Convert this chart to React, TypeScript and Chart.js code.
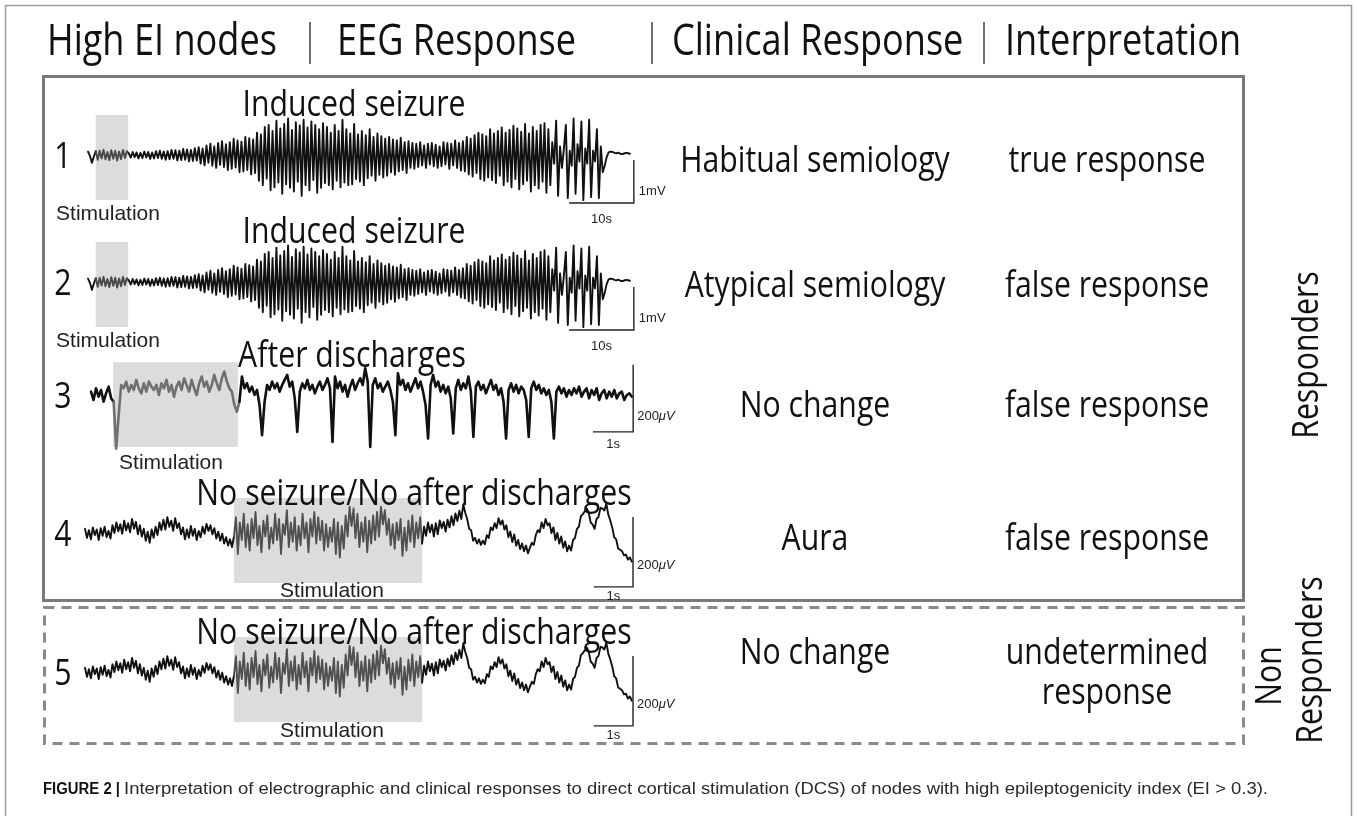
import React, { useEffect, useRef } from "react";
import { Chart, registerables } from "chart.js";

Chart.register(...registerables);

const W = 1357;
const H = 816;

// ---------------- text content ----------------
const HEADERS = ["High EI nodes", "EEG Response", "Clinical Response", "Interpretation"];
const NODE_LABELS = ["1", "2", "3", "4", "5"];
const EEG_RESPONSES = [
  "Induced seizure",
  "Induced seizure",
  "After discharges",
  "No seizure/No after discharges",
  "No seizure/No after discharges",
];
const CLINICAL_RESPONSES = ["Habitual semiology", "Atypical semiology", "No change", "Aura", "No change"];
const INTERPRETATIONS = [
  ["true response"],
  ["false response"],
  ["false response"],
  ["false response"],
  ["undetermined", "response"],
];
const GROUP_RESPONDERS = ["Responders"];
const GROUP_NON_RESPONDERS = ["Non", "Responders"];
const STIM_LABEL = "Stimulation";
const CAPTION_HEAD = "FIGURE 2 |";
const CAPTION_TEXT =
  "Interpretation of electrographic and clinical responses to direct cortical stimulation (DCS) of nodes with high epileptogenicity index (EI > 0.3).";

// ---------------- EEG samples (µV) ----------------
// Induced seizure recording (nodes 1 and 2), one sample every 0.3 s
const SEIZURE_DT = 0.3;
const SEIZURE_UV = [
  80, -20, -180, -40,
  90, -110, 100, -80, 120, -100, 70, -120, 110, -90, 100, -130, 80, -100, 120, -70, 90,
  40, -60, 70, -50, 60, -80, 50, -70, 80, -60, 70, -90, 60, -80, 90, -70, 100, -90, 80, -110, 90, -100, 120, -90, 110, -130, 100, -120, 140, -110, 130, -150, 120, -140, 160, -130,
  180, -200, 150, -240, 220, -180, 260, -250, 200, -300, 280, -230, 320, -280, 250, -350, 300, -320, 380, -290, 340, -400, 310, -380, 420, -350, 390, -450, 360, -420,
  520, -600, 480, -700, 650, -550, 700, -820, 560, -750, 800, -640, 620, -900, 720, -680, 850, -760, 580, -850, 760, -620, 690, -950, 820, -700, 640, -820, 780, -580, 700, -880, 600, -760, 740, -650,
  650, -700, 520, -800, 700, -600, 560, -750, 820, -640, 600, -700, 500, -680, 720, -560, 480, -620, 560, -700, 460, -540, 600, -480, 420, -600, 500, -460, 440, -520, 380, -480, 420, -400, 360, -460, 340, -380, 400, -350, 300, -420, 320, -300, 280,
  -320, 260, -280, 300, -240, 220, -300, 260, -220, 280, -260, 240, -300, 200, -260, 300, -220, 280, -320, 260, -240, 340, -300, 280, -360, 320,
  -380, 420, -450, 380, -500, 460, -420, 520, -560, 480, -600, 440, -520, 600, -580, 500, -650, 560, -480, 640, -700, 520, -620, 580, -750, 680, -560, 620, -800, 540, -680, 720, -600, 500, -850, 650, -700, 560, -780, 700, -620, 740, -880, 600, -700,
  300, -200, 800, -950, 200, -300, 150, 700, -1000, 100, -250, 850, -900, 250, -150, 780, -1050, 150, -200, 820, -980, 100, -150, 600, -1000, 200,
  -400, -250, -50, 60, 80, 70, 50, 40, 55, 30, 20, 35, 50, 40, 30,
];

// After-discharge recording (node 3), one sample every 0.0625 s
const AD_DT = 0.0625;
const AD_UV = [
  10, -15, 20, -5, 15, -20, 5, 25, -10,
  -20, -160, -60, 30, 20, 40, 10, 30, 15, 45,
  20, 5, 35, 10, 40, 25, 15, 30, 0, 35,
  20, 45, 10, 30, -5, 25, 40, 15, 50, 30,
  10, 45, 20, 0, 35, 55, 25, 40, 10, 30,
  60, 35, 15, 50, 70, 40, 20, 10, -30, -50,
  -20,
  55, 20, 35, 10, 25, 0, 15, -30, -120, -20,
  30, 15, 40, 20, 35, 10, 30, 45, 60, 25,
  40, -10, -110, 10, 35, 20, 45, 15, 30, 5,
  25, 40, 15, 30, 50, 20, -140, 55, 20, 40,
  10, 30, -5, 25, 45, 15, 35, 50, 30, 80,
  40, -155, 30, 50, 20, 35, 10, 25, 40, 15,
  -20, -120, 65, 30, 45, 15, 35, 10, 30, 50,
  20, 40, 10, -30, -130, 30, 60, 25, 40, 10,
  30, 5, 25, -10, -115, 20, 45, 15, 35, 20,
  55, 10, -125, 25, 40, 15, 30, 5, 25, 45,
  15, 30, 0, 20, -20, -130, 15, 35, 10, 30,
  5, 25, 15, -15, -125, 20, 40, 15, 30, 5,
  20, 0, 15, -20, -130, 10, 25, 5, 20, -5,
  15, 0, 20, 5, 25, -5, 10, 20, -10, 15,
  0, 20, -15, 5, 15, -10, 10, -5, 15, -10,
  5, 10, -15, 0, 5, -5,
];

// No-response recording (nodes 4 and 5), one sample every 0.05 s
const BASE_DT = 0.05;
const BASE_UV = [
  12, -14, 8, -18, 16, -6, 10, -20, 14, -8,
  18, -12, 6, -16, 22, 0, 30, 5, 25, -2,
  35, 8, 28, 2, 40, 12, 32, -4, 22, -10,
  12, -22, 4, -28, 10, -14, 18, -6, 30, 8,
  38, 10, 45, 18, 35, 6, 42, 14, 28, -4,
  16, -18, 10, -14, 20, -8, 12, -20, 6, -12,
  18, -2, 26, 6, 22, -4, 14, -16, 4, -22,
  -2, -30, -12, -36, -18, -40,
  -10, 45, -60, 30, -20, 55, -40, 25, -50, 40,
  -15, 60, -35, 20, -55, 35, -10, 50, -45, 15,
  -30, 55, -20, 40, -60, 25, -5, 65, -40, 30,
  -25, 45, -50, 20, -35, 55, -15, 30, -55, 40,
  -10, 60, -30, 45, -20, 35, -50, 25, -40, 15,
  -25, 40, -60, 30, -70, 20, -45, 50, -10, 75,
  20, 70, -15, 55, -40, 30, -25, 45, -55, 35,
  -30, 50, -20, 60, -10, 75, 25, 65, -5, 40,
  -35, 25, -45, 30, -20, 40, -65, 15, -50, 35,
  -25, 50, -40, 30, -15, 45, -30,
  18, -8, 30, 2, 24, -10, 28, -4, 36, 14,
  32, 4, 38, 16, 48, 22, 56, 34, 64, 40,
  82, 58, 40, 12, 8, -22, -14, -30, -18, -34,
  -22, -32, -6, -14, 16, 8, 28, 14, 42, 24,
  36, 10, 22, -12, 4, -26, -4, -36, -20, -46,
  -30, -52, -36, -58, -42, -28, -34, -6, 8, 2,
  30, 14, 40, 22, 28, 0, 16, -20, 0, -30,
  -10, -42, -24, -52, -36, -50, -20, -14, 12, 18,
  48, 54, 62, 70, 58, 30, 24, 12, 40, 46,
  72, 70, 64, 84, 52, 36, 16, -12, -18, -44,
  -48, -52, -64, -62, -76, -70, -82,
];

const RECORDINGS = [
  { dt: SEIZURE_DT, values: SEIZURE_UV },
  { dt: AD_DT, values: AD_UV },
  { dt: BASE_DT, values: BASE_UV },
];
const RECORDING_OF_NODE = [0, 0, 1, 2, 2];

// stimulation windows (s) for each node
const STIM_START_S = [1.2, 1.2, 0.55, 3.8, 3.8];
const STIM_END_S = [6.2, 6.2, 3.65, 8.6, 8.6];

// scale bars
const SCALE_TIME_S = [10, 10, 1, 1, 1];
const SCALE_AMP_UV = [1000, 1000, 200, 200, 200];
const SCALE_TIME_LABELS = ["10s", "10s", "1s", "1s", "1s"];
const SCALE_AMP_LABELS = ["1mV", "1mV", "200μV", "200μV", "200μV"];

// ---------------- layout (positions / styles) ----------------
const MYRIAD = "'Open Sans', 'Noto Sans', 'DejaVu Sans', sans-serif";
const HELV = "'Liberation Sans', Arial, sans-serif";
const NARROW = "'Liberation Sans Narrow', 'Liberation Sans', Arial, sans-serif";
const SQUISH = 0.84;
const BODY = 36;
const HEAD = 43;

const LAYOUT = {
  headerX: [47, 337, 672, 1005],
  headerBase: 55,
  pipesX: [310, 652, 984],
  pipeTop: 22,
  pipeBot: 64,
  respBox: { l: 43.5, t: 76.5, r: 1243.5, b: 600.5 },
  nonBox: { l: 44.5, t: 607.5, r: 1243.5, b: 743.5 },
  clinicalX: 815,
  interpX: 1107,
  nodeX: 63,
  caption: { x: 43, base: 794, right: 1268 },
};

const ROW_LAYOUT = [
  { x0: 88, pxPerSec: 6.475, yc: 155, pxPerUV: 0.043, lw: 1.9, stimColor: "#4a4a4a", stimTop: 930, stimBot: -1047, barT: 84.3, barV: -1116, ampDy: -8, timeDy: 20, titleX: 354, titleBase: 116, stimLabelX: 108, stimLabelBase: 220, textBase: [172] },
  { x0: 88, pxPerSec: 6.475, yc: 282, pxPerUV: 0.043, lw: 1.9, stimColor: "#4a4a4a", stimTop: 930, stimBot: -1047, barT: 84.3, barV: -1116, ampDy: -8, timeDy: 20, titleX: 354, titleBase: 243, stimLabelX: 108, stimLabelBase: 347, textBase: [297] },
  { x0: 91, pxPerSec: 40.25, yc: 395, pxPerUV: 0.335, lw: 2.6, stimColor: "#707070", stimTop: 98, stimBot: -155, barT: 13.47, barV: -110, ampDy: -12, timeDy: 16, titleX: 352, titleBase: 367, stimLabelX: 171, stimLabelBase: 469, textBase: [417] },
  { x0: 85, pxPerSec: 39.2, yc: 533, pxPerUV: 0.35, lw: 1.9, stimColor: "#505050", stimTop: 100, stimBot: -143, barT: 13.98, barV: -154, ampDy: -18, timeDy: 13, titleX: 414, titleBase: 505, stimLabelX: 332, stimLabelBase: 597, textBase: [550] },
  { x0: 85, pxPerSec: 39.2, yc: 672, pxPerUV: 0.35, lw: 1.9, stimColor: "#505050", stimTop: 100, stimBot: -143, barT: 13.98, barV: -154, ampDy: -18, timeDy: 13, titleX: 414, titleBase: 644, stimLabelX: 332, stimLabelBase: 737, textBase: [664, 704] },
];

type TOpts = {
  size: number;
  family?: string;
  weight?: string;
  style?: string;
  align?: CanvasTextAlign;
  sx?: number;
  color?: string;
  rot?: number;
};

function drawText(ctx: CanvasRenderingContext2D, s: string, x: number, y: number, o: TOpts) {
  ctx.save();
  ctx.translate(x, y);
  if (o.rot) ctx.rotate(o.rot);
  ctx.scale(o.sx ?? 1, 1);
  ctx.font = `${o.style ?? "normal"} ${o.weight ?? "normal"} ${o.size}px ${o.family ?? MYRIAD}`;
  ctx.fillStyle = o.color ?? "#111";
  ctx.textAlign = o.align ?? "left";
  ctx.textBaseline = "alphabetic";
  ctx.fillText(s, 0, 0);
  ctx.restore();
}

function measure(ctx: CanvasRenderingContext2D, s: string, font: string) {
  ctx.save();
  ctx.font = font;
  const w = ctx.measureText(s).width;
  ctx.restore();
  return w;
}

function line(ctx: CanvasRenderingContext2D, x1: number, y1: number, x2: number, y2: number) {
  ctx.beginPath();
  ctx.moveTo(x1, y1);
  ctx.lineTo(x2, y2);
  ctx.stroke();
}

const figurePlugin = {
  id: "figureDecor",
  beforeDatasetsDraw(chart: any) {
    const ctx: CanvasRenderingContext2D = chart.ctx;
    ctx.save();
    ROW_LAYOUT.forEach((r, k) => {
      const xs = chart.scales[`x${k}`];
      const ys = chart.scales[`y${k}`];
      const l = xs.getPixelForValue(STIM_START_S[k]);
      const rr = xs.getPixelForValue(STIM_END_S[k]);
      const t = ys.getPixelForValue(r.stimTop);
      const b = ys.getPixelForValue(r.stimBot);
      ctx.fillStyle = "#dcdcdc";
      ctx.fillRect(l, t, rr - l, b - t);
    });
    ctx.restore();
  },
  afterDatasetsDraw(chart: any) {
    const ctx: CanvasRenderingContext2D = chart.ctx;
    const L = LAYOUT;
    ctx.save();

    // outer frame
    ctx.strokeStyle = "#9c9c9c";
    ctx.lineWidth = 1.5;
    ctx.strokeRect(5.5, 5.5, 1346, 840);

    // header
    HEADERS.forEach((h, i) => drawText(ctx, h, L.headerX[i], L.headerBase, { size: HEAD, sx: SQUISH }));
    ctx.strokeStyle = "#6e6e6e";
    ctx.lineWidth = 2;
    L.pipesX.forEach((x) => line(ctx, x, L.pipeTop, x, L.pipeBot));

    // group boxes
    ctx.strokeStyle = "#7a7a7a";
    ctx.lineWidth = 3;
    const rb = L.respBox;
    ctx.strokeRect(rb.l, rb.t, rb.r - rb.l, rb.b - rb.t);
    const nb = L.nonBox;
    ctx.strokeStyle = "#8a8a8a";
    ctx.setLineDash([10, 7]);
    ctx.strokeRect(nb.l, nb.t, nb.r - nb.l, nb.b - nb.t);
    ctx.setLineDash([]);

    // rows
    ROW_LAYOUT.forEach((r, k) => {
      const xs = chart.scales[`x${k}`];
      const ys = chart.scales[`y${k}`];
      drawText(ctx, NODE_LABELS[k], L.nodeX, r.yc + 13, { size: BODY, sx: SQUISH, align: "center" });
      drawText(ctx, EEG_RESPONSES[k], r.titleX, r.titleBase, { size: BODY, sx: SQUISH, align: "center" });
      drawText(ctx, STIM_LABEL, r.stimLabelX, r.stimLabelBase, { size: 21, family: HELV, align: "center", color: "#222" });
      drawText(ctx, CLINICAL_RESPONSES[k], L.clinicalX, r.textBase[0], { size: BODY, sx: SQUISH, align: "center" });
      INTERPRETATIONS[k].forEach((s, j) =>
        drawText(ctx, s, L.interpX, r.textBase[j], { size: BODY, sx: SQUISH, align: "center" })
      );

      // scale bars
      const bx = xs.getPixelForValue(r.barT);
      const bx0 = xs.getPixelForValue(r.barT - SCALE_TIME_S[k]);
      const by0 = ys.getPixelForValue(r.barV);
      const by1 = ys.getPixelForValue(r.barV + SCALE_AMP_UV[k]);
      ctx.strokeStyle = "#222";
      ctx.lineWidth = 1.4;
      ctx.beginPath();
      ctx.moveTo(bx, by1);
      ctx.lineTo(bx, by0);
      ctx.lineTo(bx0, by0);
      ctx.stroke();
      drawText(ctx, SCALE_TIME_LABELS[k], (bx + bx0) / 2, by0 + r.timeDy, { size: 13, family: HELV, align: "center", color: "#222" });
      const amp = SCALE_AMP_LABELS[k];
      if (amp.endsWith("μV")) {
        const num = amp.slice(0, -2);
        const f = `normal normal 13px ${HELV}`;
        const wNum = measure(ctx, num, f);
        drawText(ctx, num, bx + 4, by0 + r.ampDy, { size: 13, family: HELV, color: "#222" });
        drawText(ctx, "μV", bx + 4 + wNum, by0 + r.ampDy, { size: 13, family: HELV, style: "italic", color: "#222" });
      } else {
        drawText(ctx, amp, bx + 5, by0 + r.ampDy, { size: 13, family: HELV, color: "#222" });
      }
    });

    // group labels (rotated, reading bottom to top)
    const up = -Math.PI / 2;
    drawText(ctx, GROUP_RESPONDERS[0], 1318, 355, { size: BODY, sx: SQUISH, align: "center", rot: up });
    drawText(ctx, GROUP_NON_RESPONDERS[0], 1281, 676, { size: BODY, sx: SQUISH, align: "center", rot: up });
    drawText(ctx, GROUP_NON_RESPONDERS[1], 1322, 660, { size: BODY, sx: SQUISH, align: "center", rot: up });

    // caption
    const c = L.caption;
    const headFont = `normal bold 16px ${NARROW}`;
    const headW = measure(ctx, CAPTION_HEAD, headFont);
    const headSx = 77 / headW;
    drawText(ctx, CAPTION_HEAD, c.x, c.base, { size: 16, family: NARROW, weight: "bold", sx: headSx, color: "#111" });
    const bodyX = c.x + 81;
    const bodyFont = `normal normal 16px ${NARROW}`;
    const bodyW = measure(ctx, CAPTION_TEXT, bodyFont);
    drawText(ctx, CAPTION_TEXT, bodyX, c.base, { size: 16, family: NARROW, sx: (c.right - bodyX) / bodyW, color: "#2a2a2a" });

    ctx.restore();
  },
};

export default function App() {
  const ref = useRef<HTMLCanvasElement | null>(null);

  useEffect(() => {
    const canvas = ref.current;
    if (!canvas) return;

    const scales: any = {};
    const datasets = ROW_LAYOUT.map((r, k) => {
      const rec = RECORDINGS[RECORDING_OF_NODE[k]];
      scales[`x${k}`] = {
        type: "linear",
        axis: "x",
        position: "bottom",
        display: false,
        bounds: "data",
        min: -r.x0 / r.pxPerSec,
        max: (W - r.x0) / r.pxPerSec,
      };
      scales[`y${k}`] = {
        type: "linear",
        axis: "y",
        position: "left",
        display: false,
        bounds: "data",
        max: r.yc / r.pxPerUV,
        min: -(H - r.yc) / r.pxPerUV,
      };
      const s0 = STIM_START_S[k];
      const s1 = STIM_END_S[k];
      return {
        label: `Node ${NODE_LABELS[k]}`,
        data: rec.values.map((v, i) => ({ x: i * rec.dt, y: v })),
        xAxisID: `x${k}`,
        yAxisID: `y${k}`,
        borderColor: "#111",
        borderWidth: r.lw,
        borderJoinStyle: "round",
        borderCapStyle: "round",
        pointRadius: 0,
        tension: 0,
        fill: false,
        segment: {
          borderColor: (c: any) => {
            const t = c.p0.parsed.x;
            return t >= s0 - 1e-9 && t < s1 ? r.stimColor : "#111";
          },
        },
      };
    });

    const chart = new Chart(canvas, {
      type: "line",
      data: { datasets } as any,
      options: {
        responsive: false,
        animation: false,
        devicePixelRatio: 1,
        events: [],
        layout: { padding: 0 },
        plugins: {
          legend: { display: false },
          tooltip: { enabled: false },
          title: { display: false },
        },
        scales,
      } as any,
      plugins: [figurePlugin as any],
    });
    return () => chart.destroy();
  }, []);

  return (
    <div style={{ position: "fixed", left: 0, top: 0, width: W, height: H, background: "#fff" }}>
      <canvas ref={ref} width={W} height={H} style={{ display: "block", width: W, height: H }} />
    </div>
  );
}
